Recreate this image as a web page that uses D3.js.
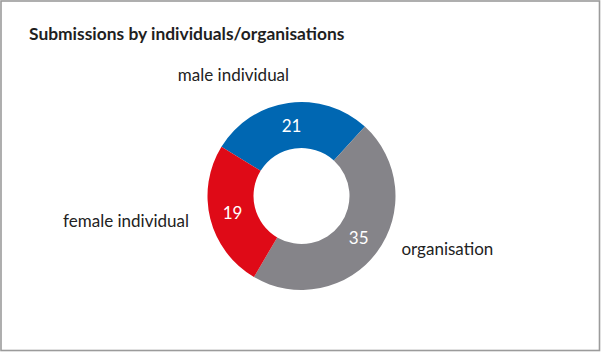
<!DOCTYPE html>
<html>
<head>
<meta charset="utf-8">
<script src="https://cdn.jsdelivr.net/npm/d3@7"></script>
<style>
  html, body { margin: 0; padding: 0; background: #fff; }
  svg { display: block; font-family: Lato, "Noto Sans", sans-serif; }
</style>
</head>
<body>
<svg id="donut" width="601" height="352"></svg>
<script>
// chart data
var categories = ["male individual", "organisation", "female individual"];
var values = [21, 35, 19];
var colours = ["#0067b2", "#858489", "#df0a17"];
var title = "Submissions by individuals/organisations";

// small hand nudges for the outside labels, in px
var labelNudge = {
  "male individual": [4, -4],
  "organisation": [5, -17],
  "female individual": [2, -3]
};

function drawDonut() {
  var svg = d3.select("#donut");
  var width = +svg.attr("width");
  var height = +svg.attr("height");

  svg.append("rect")
    .attr("x", 1)
    .attr("y", 1)
    .attr("width", width - 2.5)
    .attr("height", height - 2.5)
    .attr("fill", "#fff")
    .attr("stroke", "#9b9b9b")
    .attr("stroke-width", 1.6);

  svg.append("text")
    .attr("x", 29)
    .attr("y", 40)
    .attr("fill", "#1f1f1f")
    .style("font-size", "17.4px")
    .style("font-weight", "700")
    .text(title);

  var outerR = 94;
  var innerR = 48;
  var cx = 301.5, cy = 196;

  var data = categories.map(function(c, i) {
    return { name: c, value: values[i], colour: colours[i] };
  });

  var pie = d3.pie()
    .sort(null)
    .value(function(d) { return d.value; })
    .startAngle(-58.4 * Math.PI / 180)
    .endAngle((360 - 58.4) * Math.PI / 180);

  var arc = d3.arc()
    .innerRadius(innerR)
    .outerRadius(outerR);

  var labelArc = d3.arc()
    .innerRadius(outerR + 24)
    .outerRadius(outerR + 24);

  var arcs = pie(data);

  var chart = svg.append("g")
    .attr("transform", "translate(" + cx + "," + cy + ")");

  chart.selectAll(".arc")
    .data(arcs)
    .enter()
    .append("path")
    .attr("class", "arc")
    .attr("fill", function(d) { return d.data.colour; })
    .attr("d", arc);

  chart.selectAll(".value")
    .data(arcs)
    .enter()
    .append("text")
    .attr("class", "value")
    .attr("transform", function(d) { return "translate(" + arc.centroid(d) + ")"; })
    .attr("dy", "0.35em")
    .attr("text-anchor", "middle")
    .attr("fill", "#fff")
    .style("font-size", "17px")
    .style("font-weight", "400")
    .text(function(d) { return d.data.value; });

  chart.selectAll(".cat")
    .data(arcs)
    .enter()
    .append("text")
    .attr("class", "cat")
    .attr("x", function(d) { return labelArc.centroid(d)[0] + labelNudge[d.data.name][0]; })
    .attr("y", function(d) { return labelArc.centroid(d)[1] + labelNudge[d.data.name][1]; })
    .attr("dy", "0.35em")
    .attr("text-anchor", function(d) {
      var mid = (d.startAngle + d.endAngle) / 2;
      return Math.sin(mid) >= 0 ? "start" : "end";
    })
    .attr("fill", "#222")
    .style("font-size", "17px")
    .text(function(d) { return d.data.name; });
}

drawDonut();
</script>
</body>
</html>
